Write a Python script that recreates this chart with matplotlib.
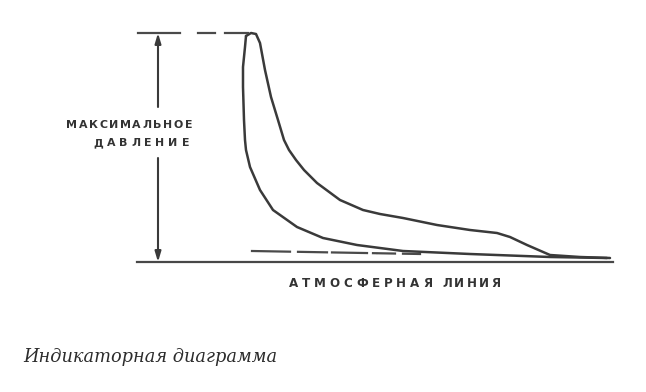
import matplotlib
matplotlib.use('Agg')
import matplotlib.pyplot as plt
import numpy as np

# Indicator diagram. x = volume units, p = pressure above atmospheric line
expansion_x = [246, 251, 256, 260, 265, 271, 278, 284, 289, 296, 304, 317, 340, 363, 380, 403, 437, 470, 497, 510, 527, 550, 580, 610]
expansion_p = [226, 229, 228, 219, 192, 165, 142, 122, 112, 102, 92, 79, 62, 52, 48, 44, 37, 32, 29, 25, 17, 7, 5, 4]

compression_x = [246, 245, 243, 243, 244, 245, 246, 250, 260, 273, 297, 323, 357, 380, 403, 470, 550, 607]
compression_p = [226, 215, 195, 175, 142, 122, 112, 95, 72, 52, 35, 24, 17, 14, 11, 8, 5, 4]

# dashed line just above the atmospheric line (x spans of the dashes)
dash_x0 = [252, 298, 332, 373, 378, 403]
dash_x1 = [290, 327, 367, 376, 395, 420]
dash_p0, dash_p1 = 11, 8

# dashed line at maximum pressure
top_x0 = [138, 198, 225]
top_x1 = [180, 215, 248]
p_max = 229

atm_x = [137, 613]
arrow_x = 158

ink = '#3a3a3a'

fig = plt.figure(figsize=(6.46, 3.92), dpi=100)
ax = fig.add_axes([0, 0, 1, 1])
ax.set_xlim(0, 646)
ax.set_ylim(262 - 392, 262)
ax.axis('off')
renderer = fig.canvas.get_renderer()


def tracked(x0, x1, y, s, **kw):
    # letter-spaced caps: spread the letters of s evenly between x0 and x1 (1 unit = 1 px)
    widths = []
    for ch in s:
        t = ax.text(0, 0, ch, **kw)
        widths.append(t.get_window_extent(renderer).width)
        t.remove()
    gap = (x1 - x0 - sum(widths)) / (len(s) - 1)
    x = x0
    for ch, w in zip(s, widths):
        ax.text(x, y, ch, ha='left', va='baseline', **kw)
        x += w + gap


ax.plot(expansion_x, expansion_p, color=ink, lw=1.8, solid_capstyle='round', solid_joinstyle='round')
ax.plot(compression_x, compression_p, color=ink, lw=1.8, solid_capstyle='round', solid_joinstyle='round')

# atmospheric line
ax.plot(atm_x, [0, 0], color='#484848', lw=1.6)

for a, b in zip(dash_x0, dash_x1):
    pa = dash_p0 + (dash_p1 - dash_p0) * (a - dash_x0[0]) / (dash_x1[-1] - dash_x0[0])
    pb = dash_p0 + (dash_p1 - dash_p0) * (b - dash_x0[0]) / (dash_x1[-1] - dash_x0[0])
    ax.plot([a, b], [pa, pb], color='#4a4a4a', lw=1.6)

for a, b in zip(top_x0, top_x1):
    ax.plot([a, b], [p_max, p_max], color='#4a4a4a', lw=1.6)

# double arrow for maximum pressure, broken by the label
arr = dict(arrowstyle='-|>,head_length=0.6,head_width=0.18', color=ink, lw=1.5, shrinkA=0, shrinkB=0)
ax.annotate('', xy=(arrow_x, p_max), xytext=(arrow_x, 262 - 107), arrowprops=arr)
ax.annotate('', xy=(arrow_x, 0), xytext=(arrow_x, 262 - 158), arrowprops=arr)

lab = dict(fontweight='bold', color='#333333', family='DejaVu Sans')
tracked(66, 192, 262 - 128.5, 'МАКСИМАЛЬНОЕ', fontsize=7.9, **lab)
tracked(93, 189, 262 - 146.5, 'ДАВЛЕНИЕ', fontsize=7.9, **lab)
tracked(289, 432, 262 - 287, 'АТМОСФЕРНАЯ', fontsize=8.6, **lab)
tracked(442, 500, 262 - 287, 'ЛИНИЯ', fontsize=8.6, **lab)

ax.text(23, 262 - 362, 'Индикаторная диаграмма', fontsize=12.8, style='italic',
        family='DejaVu Serif', color='#2c2c2c', ha='left', va='baseline')

plt.savefig('out.png', dpi=100)
